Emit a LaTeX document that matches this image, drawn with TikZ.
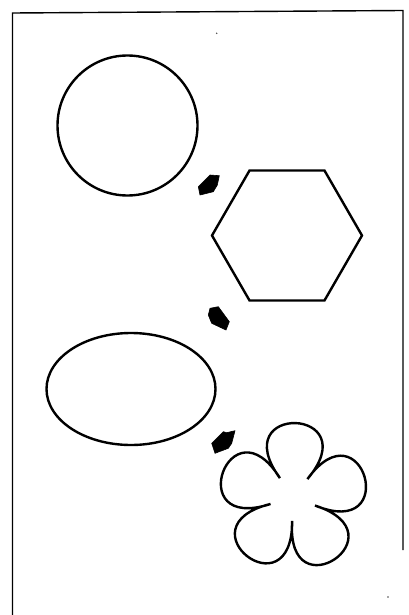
\documentclass[tikz,border=0pt]{standalone}
\begin{document}
\begin{tikzpicture}[x=1pt,y=-1pt,
  outline/.style={draw=black,line width=2.4pt},
  framestyle/.style={draw=black,line width=1.4pt},
  blob/.style={fill=black,draw=black,line width=0.6pt,line join=round},
  speck/.style={fill=black!70}]
\useasboundingbox (0,0) rectangle (408,615);
\fill[white] (0,0) rectangle (408,615);
% frame
\draw[framestyle] (12.5,615) -- (12.5,13) -- (403,10.5) -- (403,550);
% circle
\coordinate (circ) at (127.5,125.5);
\draw[outline] (circ) circle[radius=70pt];
% hexagon
\coordinate (hex) at (287,235.5);
\draw[outline,line join=miter] ([shift={(0:75pt)}]hex) -- ([shift={(60:75pt)}]hex) -- ([shift={(120:75pt)}]hex)
  -- ([shift={(180:75pt)}]hex) -- ([shift={(240:75pt)}]hex) -- ([shift={(300:75pt)}]hex) -- cycle;
% ellipse
\coordinate (ell) at (131,389);
\draw[outline] (ell) ellipse[x radius=84.5pt, y radius=56pt];
% flower
\coordinate (flw) at (293,497.5);
\begin{scope}[shift={(flw)},yscale=-1,rotate=2]
\draw[outline,line join=miter,miter limit=20]
  (54:23.4) .. controls (52.25:117.6) and (127.75:117.6) .. (126:23.4)
  .. controls (124.25:117.6) and (199.75:117.6) .. (198:23.4)
  .. controls (196.25:117.6) and (271.75:117.6) .. (270:23.4)
  .. controls (268.25:117.6) and (343.75:117.6) .. (342:23.4)
  .. controls (340.25:117.6) and (55.75:117.6) .. (54:23.4) -- cycle;
\end{scope}
% arrow blobs
\draw[blob] (198.3,186.7) -- (210,175) -- (219.3,175.7) -- (217.3,185) -- (213.3,191.7) -- (200,195) -- cycle;
\draw[blob] (210,308.3) -- (218.3,306.7) -- (229.3,321.7) -- (226,330) -- (211.7,323.3) -- (208.3,315) -- cycle;
\draw[blob] (211.7,443.3) -- (223.3,431.7) -- (226.7,432.7) -- (235,430.7) -- (231.7,443.3) -- (228.3,448.3) -- (215,453.3) -- cycle;
% specks
\fill[speck] (216.7,33.3) circle[radius=0.8pt];
\fill[speck] (388,597) circle[radius=0.8pt];
\end{tikzpicture}
\end{document}
